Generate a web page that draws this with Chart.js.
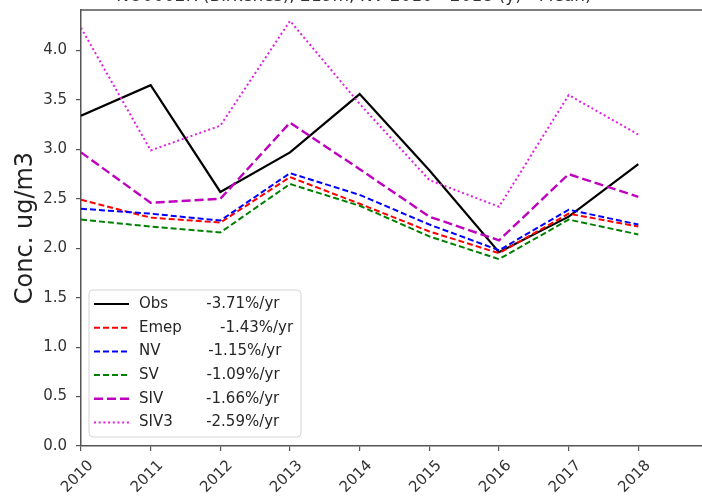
<!DOCTYPE html>
<html>
<head>
<meta charset="utf-8">
<script src="https://cdn.jsdelivr.net/npm/chart.js@4.4.1/dist/chart.umd.min.js"></script>
<style>
  html, body { margin: 0; padding: 0; background: #fff; overflow: hidden; width: 702px; height: 498px; }
  #wrap { position: absolute; left: 0; top: -14px; width: 720px; height: 512px; }
</style>
</head>
<body>
<div id="wrap"><canvas id="chart" width="720" height="512"></canvas></div>
<script>
// data
const years = [2010, 2011, 2012, 2013, 2014, 2015, 2016, 2017, 2018];
const obs  = [3.34, 3.65, 2.57, 2.97, 3.56, 2.79, 1.96, 2.32, 2.85];
const emep = [2.49, 2.31, 2.26, 2.72, 2.45, 2.17, 1.95, 2.35, 2.22];
const nv   = [2.40, 2.35, 2.28, 2.76, 2.54, 2.24, 1.98, 2.39, 2.24];
const sv   = [2.29, 2.22, 2.16, 2.65, 2.43, 2.12, 1.89, 2.29, 2.14];
const siv  = [2.97, 2.46, 2.50, 3.27, 2.80, 2.32, 2.08, 2.75, 2.52];
const siv3 = [4.23, 2.99, 3.24, 4.30, 3.46, 2.69, 2.42, 3.55, 3.15];
const yTicks = [0, 0.5, 1.0, 1.5, 2.0, 2.5, 3.0, 3.5, 4.0];
const legendLabels = [
  'Obs        -3.71%/yr',
  'Emep        -1.43%/yr',
  'NV          -1.15%/yr',
  'SV          -1.09%/yr',
  'SIV         -1.66%/yr',
  'SIV3       -2.59%/yr'
];
const titleText = 'NO0002R (Birkenes), 219m, NV 2010 - 2018 (y) - Mean)';

const FONT = '"DejaVu Sans", sans-serif';
const AXIS = '#555';

function series(vals) { return vals.map((v, i) => ({ x: years[i], y: v })); }

function line(vals, color, dash, width, order) {
  return { data: series(vals), borderColor: color, borderDash: dash, borderWidth: width,
           pointRadius: 0, tension: 0, fill: false, order: order };
}

// top spine + matplotlib style legend box
const frame = {
  id: 'frame',
  afterDraw(chart) {
    const ctx = chart.ctx, a = chart.chartArea;
    ctx.save();
    ctx.strokeStyle = AXIS; ctx.lineWidth = 1.5;
    ctx.beginPath(); ctx.moveTo(a.left, a.top); ctx.lineTo(a.right + 2, a.top); ctx.stroke();

    const w = 212, h = 147, x = a.left + 8, y = a.bottom - 9 - h;
    ctx.beginPath(); ctx.roundRect(x, y, w, h, 4);
    ctx.fillStyle = 'rgba(255,255,255,0.85)'; ctx.fill();
    ctx.strokeStyle = '#d4d4d4'; ctx.lineWidth = 1; ctx.stroke();
    ctx.font = '15px ' + FONT; ctx.textBaseline = 'middle'; ctx.fillStyle = '#262626';
    chart.data.datasets.forEach((ds, i) => {
      const ry = y + 14 + i * 23.7;
      ctx.beginPath();
      ctx.setLineDash(ds.borderDash || []);
      ctx.lineWidth = ds.borderWidth; ctx.strokeStyle = ds.borderColor;
      ctx.moveTo(x + 5, ry); ctx.lineTo(x + 40, ry); ctx.stroke();
      ctx.setLineDash([]);
      ctx.fillText(legendLabels[i], x + 50, ry);
    });
    ctx.restore();
  }
};

new Chart(document.getElementById('chart'), {
  type: 'line',
  data: {
    datasets: [
      line(obs,  '#000000', [],       2.2, 6),
      line(emep, '#ff0000', [6, 3],   2.0, 5),
      line(nv,   '#0000ff', [6, 3],   2.0, 4),
      line(sv,   '#008000', [6, 3],   2.0, 3),
      line(siv,  '#bf00bf', [9, 4],   2.4, 2),
      line(siv3, '#e020e0', [2, 2.7], 2.0, 1)
    ]
  },
  options: {
    responsive: false,
    animation: false,
    layout: { padding: { left: 0, right: 12, top: 0, bottom: 0 } },
    plugins: {
      legend: { display: false },
      tooltip: { enabled: false },
      title: { display: true, text: titleText, color: '#333',
               font: { family: FONT, size: 17, weight: 'normal' },
               padding: { top: 0.5, bottom: 3.1 } }
    },
    scales: {
      x: {
        type: 'linear', min: 2010, max: 2019,
        afterBuildTicks: s => { s.ticks = years.map(v => ({ value: v })); },
        afterFit: s => { s.height = 52; },
        ticks: { minRotation: 45, maxRotation: 45, color: '#333', padding: 6, labelOffset: 10,
                 font: { family: FONT, size: 15 }, callback: v => String(v) },
        grid: { drawOnChartArea: false, drawTicks: true, tickLength: 5, color: AXIS, lineWidth: 1.2 },
        border: { display: true, color: AXIS, width: 1.5 }
      },
      y: {
        min: 0, max: 4.41,
        afterBuildTicks: s => { s.ticks = yTicks.map(v => ({ value: v })); },
        afterFit: s => { s.width = 81; },
        ticks: { color: '#333', padding: 9, font: { family: FONT, size: 15 },
                 callback: v => v.toFixed(1) },
        grid: { drawOnChartArea: false, drawTicks: true, tickLength: 5, color: AXIS, lineWidth: 1.2 },
        border: { display: true, color: AXIS, width: 1.5 },
        title: { display: true, text: 'Conc. ug/m3', color: '#222',
                 font: { family: FONT, size: 24 }, padding: { top: 11, bottom: 0 } }
      }
    }
  },
  plugins: [frame]
});
</script>
</body>
</html>
